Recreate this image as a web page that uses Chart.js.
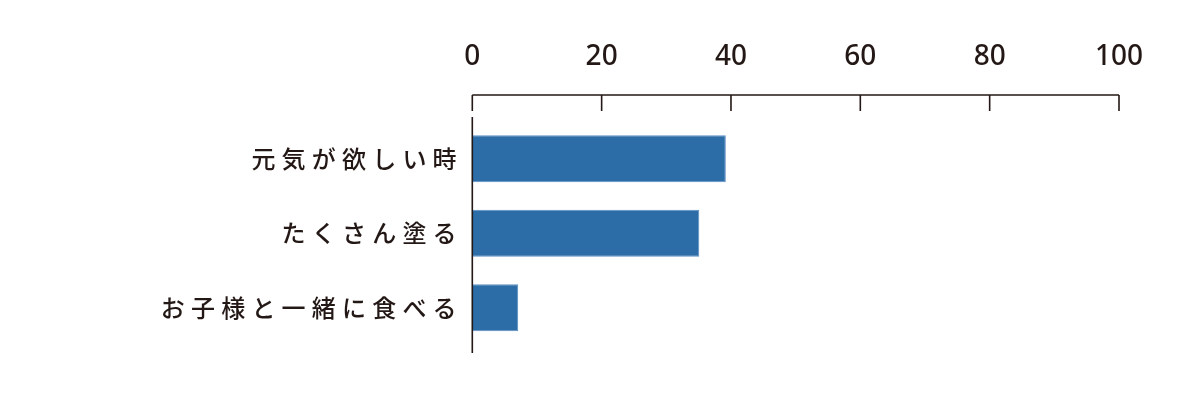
<!DOCTYPE html>
<html>
<head>
<meta charset="utf-8">
<script src="https://cdn.jsdelivr.net/npm/chart.js@4"></script>
<style>
  html, body { margin: 0; padding: 0; background: #fff; }
  #wrap { width: 1200px; height: 404px; }
</style>
</head>
<body>
<div id="wrap"><canvas id="myChart"></canvas></div>
<script>
var categories = ['元気が欲しい時', 'たくさん塗る', 'お子様と一緒に食べる'];
var values = [39.2, 35.1, 7.1];
var xTicks = [0, 20, 40, 60, 80, 100];

var inkColor = '#231815';

// axes are drawn by hand: top line with inward ticks, left line a bit longer than the bars
var axisLines = {
  id: 'axisLines',
  afterDatasetsDraw: function(chart) {
    var c = chart.ctx, a = chart.chartArea, x = chart.scales.x;
    var lineY = a.top - 26.5;
    c.save();
    c.strokeStyle = inkColor;
    c.lineWidth = 1.6;
    c.beginPath();
    c.moveTo(x.getPixelForValue(xTicks[0]), lineY);
    c.lineTo(x.getPixelForValue(xTicks[xTicks.length - 1]), lineY);
    xTicks.forEach(function(t) {
      var px = x.getPixelForValue(t);
      c.moveTo(px, lineY);
      c.lineTo(px, lineY + 16);
    });
    var x0 = x.getPixelForValue(0);
    c.moveTo(x0, a.top - 4.5);
    c.lineTo(x0, a.bottom + 8);
    c.stroke();
    c.restore();
  }
};

// wide letter spacing on the category labels only
var spacedLabels = {
  id: 'spacedLabels',
  afterUpdate: function(chart) {
    var y = chart.scales.y;
    if (y && !y._spaced) {
      var orig = y.drawLabels;
      y.drawLabels = function(area) {
        var c = this.ctx;
        c.save();
        c.letterSpacing = '6.2px';
        c.translate(12.5, 0);
        orig.call(this, area);
        c.restore();
      };
      y._spaced = true;
    }
  }
};

var ctx = document.getElementById('myChart').getContext('2d');
var chart = new Chart(ctx, {
  type: 'bar',
  data: {
    labels: categories,
    datasets: [{
      data: values,
      backgroundColor: '#2c6ca7',
      borderColor: '#5b8fc4',
      borderWidth: 1,
      barPercentage: 0.63,
      categoryPercentage: 1
    }]
  },
  options: {
    indexAxis: 'y',
    responsive: true,
    maintainAspectRatio: false,
    animation: false,
    layout: { padding: { left: 0, right: 81, top: 0, bottom: 59 } },
    plugins: { legend: { display: false }, tooltip: { enabled: false } },
    scales: {
      x: {
        position: 'top',
        min: 0,
        max: 100,
        afterBuildTicks: function(s) { s.ticks = xTicks.map(function(v) { return { value: v }; }); },
        grid: { display: false },
        border: { display: false },
        ticks: {
          color: inkColor,
          padding: 40,
          font: { family: '"Noto Sans", "Noto Sans CJK JP", sans-serif', size: 28, weight: '500' }
        },
        afterFit: function(s) { s.height = 121.5; }
      },
      y: {
        grid: { display: false },
        border: { display: false },
        ticks: {
          color: inkColor,
          padding: 14,
          font: { family: '"Noto Sans CJK JP", sans-serif', size: 24, weight: '500' }
        },
        afterFit: function(s) { s.width = 472.3; }
      }
    }
  },
  plugins: [axisLines, spacedLabels]
});
</script>
</body>
</html>
